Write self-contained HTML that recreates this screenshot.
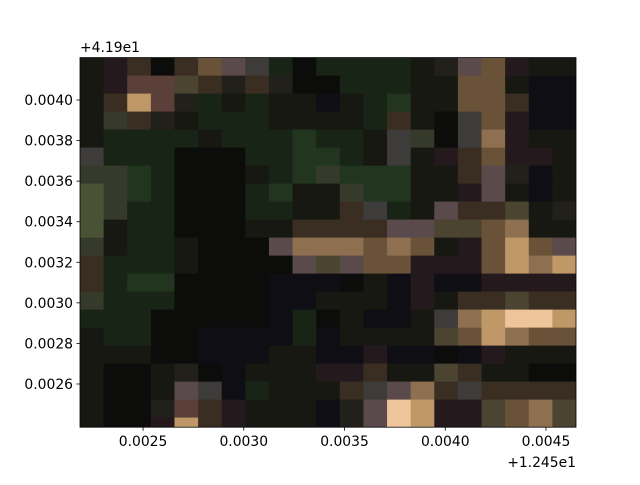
<!DOCTYPE html>
<html><head><meta charset="utf-8"><style>
body{margin:0;background:#fff}
svg text{font-family:"DejaVu Sans","Liberation Sans",sans-serif;font-size:13.9px;fill:#000}
</style></head><body>
<svg id="chart" width="640" height="480" xmlns="http://www.w3.org/2000/svg">
<defs><clipPath id="clip"><rect x="80" y="57.6" width="496" height="369.6"/></clipPath></defs>
<g id="cells" clip-path="url(#clip)"></g>
<rect x="80" y="57.6" width="496" height="369.6" fill="none" stroke="#000" stroke-width="0.8"/>
<g id="xaxis"></g>
<g id="yaxis"></g>
<text x="80" y="52">+4.19e1</text>
<text x="576" y="467" text-anchor="end">+1.245e1</text>
</svg>
<script>
const xTicks=[0.0025,0.0030,0.0035,0.0040,0.0045];
const xTickLabels=["0.0025","0.0030","0.0035","0.0040","0.0045"];
const yTicks=[0.0026,0.0028,0.0030,0.0032,0.0034,0.0036,0.0038,0.0040];
const yTickLabels=["0.0026","0.0028","0.0030","0.0032","0.0034","0.0036","0.0038","0.0040"];
const xDomain=[0.002187,0.004649];
const yDomain=[0.002387,0.004209];
const palette={k:"#0c0c0a",n:"#0e0e14",d:"#181812",D:"#22201a",g:"#182416",G:"#22361f",o:"#353a2a",O:"#4a5236",y:"#4a4430",b:"#3a2e22",B:"#6a5238",t:"#8e7050",T:"#c09868",P:"#eec49a",p:"#5a4a4c",m:"#241a1e",s:"#3e3c3a",r:"#5a4038"};
const pixels=[
"dmbkbBpsgkggggdDpBmdd","dmrrybDbDkkgggddBBdnn","dbTrDgdgddndgGddBBbnn","dobDdgggddddgbdksBmnn",
"dggggdgggGggdsokstmdd","sgggkkkggGGgdsdmbBmmd","ooGgkkkdgGoGGGddbpDnd","OoGgkkkgGddoGGddmpdnd",
"OoggkkkggddbsgdpbbydD","OdggkkkddbbbbppyyBtdd","odggdkkkptttBtBdmBTBp","bgggdkkkkpypBBmmmBTtT",
"bgGGkkkknnnkdnmnnmmmm","ogggkkkknndddnmdbbybb","gggkkkkkngkdnndstTPPT","dggkknnnngnddddyBTtBB",
"dddkknnnddnnmnnknmddd","dkkdDkndddmmbddybddkk","dkkdpsngdddbsptbsbbbb","dkkDrbmdddnDpPTmmyBty",
"dkkmTbmdddnDpPTmmyBty"];
const L=80,R=576,T=57.6,B=427.2,NS="http://www.w3.org/2000/svg";
const sx=v=>L+(v-xDomain[0])/(xDomain[1]-xDomain[0])*(R-L);
const sy=v=>B-(v-yDomain[0])/(yDomain[1]-yDomain[0])*(B-T);
function mk(t,a){const e=document.createElementNS(NS,t);for(const k in a)e.setAttribute(k,a[k]);return e;}
const cells=document.getElementById('cells');
const cw=(R-L)/21,ch=18;
pixels.forEach((row,j)=>{[...row].forEach((c,i)=>{
 const r=mk('rect',{x:L+i*cw,y:T+j*ch,width:cw+0.6,height:ch+0.6,fill:palette[c]||"#111"});
 
 
 cells.appendChild(r);});});
const xa=document.getElementById('xaxis');
xTicks.forEach((v,i)=>{const x=sx(v);
 const l=mk('line',{x1:x,x2:x,y1:B,y2:B+3.5,stroke:"#000","stroke-width":0.8});
 
 
 xa.appendChild(l);
 const t=mk('text',{x:x,y:B+19,"text-anchor":"middle"});t.textContent=xTickLabels[i];
 
 
 xa.appendChild(t);});
const ya=document.getElementById('yaxis');
yTicks.forEach((v,i)=>{const y=sy(v);
 const l=mk('line',{x1:L-3.5,x2:L,y1:y,y2:y,stroke:"#000","stroke-width":0.8});
 
 
 ya.appendChild(l);
 const t=mk('text',{x:L-7,y:y+5,"text-anchor":"end"});t.textContent=yTickLabels[i];
 
 
 ya.appendChild(t);});
</script>
</body></html>
